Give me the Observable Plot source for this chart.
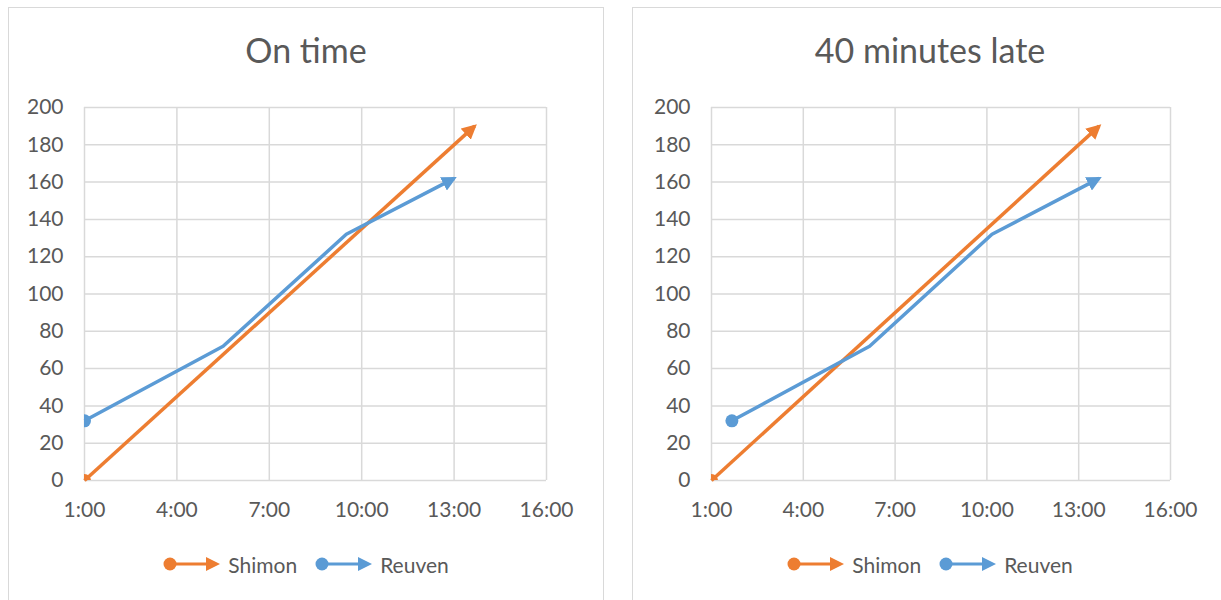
<!DOCTYPE html>
<html>
<head>
<meta charset="utf-8">
<script src="https://cdn.jsdelivr.net/npm/d3@7"></script>
<script src="https://cdn.jsdelivr.net/npm/@observablehq/plot@0.6"></script>
<style>
  html, body { margin: 0; padding: 0; background: #fff; }
  body { width: 1221px; height: 600px; overflow: hidden; position: relative; font-family: Lato, "Open Sans", sans-serif; color: #595959; }
  .panel { position: absolute; top: 7px; width: 596px; height: 640px; border: 1.5px solid #d9d9d9; box-sizing: border-box; }
  .title { position: absolute; top: 30px; height: 40px; line-height: 40px; width: 596px; text-align: center; font-size: 34px; color: #595959; }
  .chart { position: absolute; top: 0; width: 604px; height: 530px; }
  .chart svg { max-width: none !important; }
  .legend { position: absolute; top: 550px; height: 28px; width: 596px; display: flex; justify-content: center; align-items: center; font-size: 21px; color: #595959; }
  .legend .item { display: flex; align-items: center; margin: 0 9px; }
  .legend svg { margin-right: 7px; }
</style>
</head>
<body>
<div id="root"></div>
<script>
// ---- data ----
const panelTitles = ["On time", "40 minutes late"];
const seriesNames = ["Shimon", "Reuven"];
const seriesColors = ["#ED7D31", "#5B9BD5"];
const xTickLabels = ["1:00", "4:00", "7:00", "10:00", "13:00", "16:00"];
const yTickValues = [0, 20, 40, 60, 80, 100, 120, 140, 160, 180, 200];
const shimonTimes = ["1:00", "13:40"];
const shimonKm = [0, 190];
const reuvenTimes = ["1:00", "5:30", "9:30", "13:00"];
const reuvenKm = [32, 72, 132, 162];
const reuvenLateTimes = ["1:40", "6:10", "10:10", "13:40"];

// ---- helpers ----
const toHours = s => { const [h, m] = s.split(":").map(Number); return h + m / 60; };
const tickHours = xTickLabels.map(toHours);
const fmtTick = h => xTickLabels[tickHours.indexOf(h)] ?? "";
const svgNS = "http://www.w3.org/2000/svg";

function arrowMarker(color, context) {
  const doc = (context && context.document) || document;
  const m = doc.createElementNS(svgNS, "marker");
  m.setAttribute("viewBox", "0 -5 10 10");
  m.setAttribute("markerUnits", "userSpaceOnUse");
  m.setAttribute("markerWidth", "15");
  m.setAttribute("markerHeight", "15");
  m.setAttribute("refX", "8");
  m.setAttribute("refY", "0");
  m.setAttribute("orient", "auto");
  const p = doc.createElementNS(svgNS, "path");
  p.setAttribute("d", "M0,-5L10,0L0,5Z");
  p.setAttribute("fill", color);
  p.setAttribute("stroke", "none");
  m.appendChild(p);
  return m;
}

function makeChart(reuvenT, marginRight) {
  const shimon = shimonTimes.map((t, i) => ({ t: toHours(t), km: shimonKm[i] }));
  const reuven = reuvenT.map((t, i) => ({ t: toHours(t), km: reuvenKm[i] }));
  const gridStyle = { stroke: "#d9d9d9", strokeOpacity: 1, strokeWidth: 1.5 };
  return Plot.plot({
    width: 604,
    height: 530,
    marginLeft: 84,
    marginRight,
    marginTop: 107,
    marginBottom: 50,
    style: { fontFamily: "Lato, 'Open Sans', sans-serif", fontSize: "21px", color: "#595959", background: "transparent", overflow: "visible" },
    x: { domain: [1, 16] },
    y: { domain: [0, 200] },
    marks: [
      Plot.gridX(tickHours, gridStyle),
      Plot.gridY(yTickValues, gridStyle),
      Plot.axisX(tickHours, { tickSize: 0, tickPadding: 22, tickFormat: fmtTick, label: null, fontSize: 21 }),
      Plot.axisY(yTickValues, { tickSize: 0, tickPadding: 21, label: null, fontSize: 21 }),
      Plot.line(shimon, { x: "t", y: "km", stroke: seriesColors[0], strokeWidth: 3.5, strokeLinecap: "butt", markerEnd: arrowMarker }),
      Plot.line(reuven, { x: "t", y: "km", stroke: seriesColors[1], strokeWidth: 3.5, strokeLinecap: "butt", markerEnd: arrowMarker }),
      Plot.dot(shimon.slice(0, 1), { x: "t", y: "km", r: 6.5, fill: seriesColors[0], stroke: "none", clip: true }),
      Plot.dot(reuven.slice(0, 1), { x: "t", y: "km", r: 6.5, fill: seriesColors[1], stroke: "none", clip: true })
    ]
  });
}

function legendIcon(color) {
  const s = d3.create("svg").attr("width", 58).attr("height", 16);
  s.append("line").attr("x1", 7).attr("x2", 46).attr("y1", 8).attr("y2", 8).attr("stroke", color).attr("stroke-width", 3);
  s.append("circle").attr("cx", 7).attr("cy", 8).attr("r", 6.5).attr("fill", color);
  s.append("path").attr("d", "M43,1L57,8L43,15Z").attr("fill", color);
  return s.node();
}

const root = document.getElementById("root");
const panels = [
  { left: 8, chartLeft: 0, marginRight: 58, times: reuvenTimes },
  { left: 632, chartLeft: 627, marginRight: 61, times: reuvenLateTimes }
];
panels.forEach((p, i) => {
  const box = document.createElement("div");
  box.className = "panel";
  box.style.left = p.left + "px";
  root.appendChild(box);

  const chartDiv = document.createElement("div");
  chartDiv.className = "chart";
  chartDiv.style.left = p.chartLeft + "px";
  chartDiv.appendChild(makeChart(p.times, p.marginRight));
  root.appendChild(chartDiv);

  const title = document.createElement("div");
  title.className = "title";
  title.style.left = p.left + "px";
  title.textContent = panelTitles[i];
  root.appendChild(title);

  const legend = document.createElement("div");
  legend.className = "legend";
  legend.style.left = p.left + "px";
  seriesNames.forEach((name, j) => {
    const item = document.createElement("div");
    item.className = "item";
    item.appendChild(legendIcon(seriesColors[j]));
    const span = document.createElement("span");
    span.textContent = name;
    item.appendChild(span);
    legend.appendChild(item);
  });
  root.appendChild(legend);
});
</script>
</body>
</html>
